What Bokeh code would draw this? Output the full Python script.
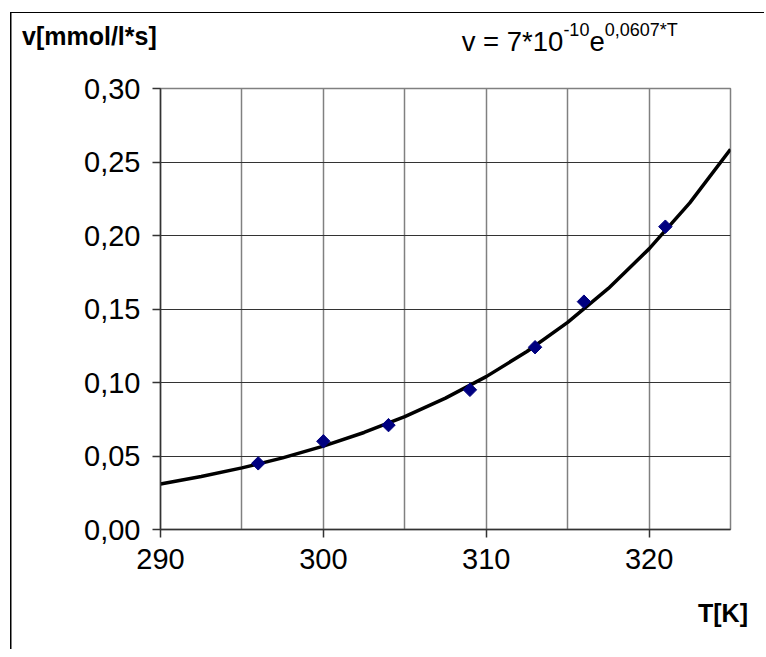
from bokeh.plotting import figure
from bokeh.models import FixedTicker, Range1d, Div
from bokeh.layouts import column
from bokeh.embed import file_html
from bokeh.resources import INLINE

# measured data points
T_points = [296, 300, 304, 309, 313, 316, 321]
v_points = [0.045, 0.060, 0.071, 0.095, 0.124, 0.155, 0.206]

# trend line
T_trend = [290, 292.5, 295, 297.5, 300, 302.5, 305, 307.5, 310, 312.5, 315, 317.5, 320, 322.5, 325]
v_trend = [0.0309, 0.0360, 0.0419, 0.0487, 0.0567, 0.0660, 0.0768, 0.0894, 0.1040, 0.1211,
           0.1409, 0.1640, 0.1909, 0.2222, 0.2586]

x_grid_ticks = [290, 295, 300, 305, 310, 315, 320, 325]
x_label_ticks = [290, 300, 310, 320]
y_ticks = [0.0, 0.05, 0.1, 0.15, 0.2, 0.25, 0.3]
y_tick_labels = ["0,00", "0,05", "0,10", "0,15", "0,20", "0,25", "0,30"]

y_title = "v[mmol/l*s]"
x_title = "T[K]"
eq_main, eq_exp1, eq_e, eq_exp2 = "v = 7*10", "-10", "e", "0,0607*T"

FONT = "Liberation Sans"
W = 764
TOP_H = 60
FIG_H = 525
BOT_H = 64
TOTAL_H = TOP_H + FIG_H + BOT_H

# ---- top block: y title + trend equation + outer border ----
top_html = f"""
<div style="position:relative;width:{W}px;height:{TOP_H}px;font-family:'{FONT}',Arial,sans-serif;color:black;">
  <div style="position:absolute;left:10px;top:12px;width:{W-10}px;height:{TOP_H-12}px;border-top:1.5px solid black;border-left:1.5px solid black;"></div>
  <div style="position:absolute;left:22px;top:23.8px;font-size:25px;font-weight:bold;line-height:25px;white-space:nowrap;">{y_title}</div>
  <div style="position:absolute;left:461.7px;top:28.4px;font-size:27.5px;line-height:27.5px;white-space:nowrap;">{eq_main}<span style="font-size:18px;position:relative;top:-15px;">{eq_exp1}</span>{eq_e}<span style="font-size:18px;position:relative;top:-15px;">{eq_exp2}</span></div>
</div>
"""
top = Div(text=top_html, width=W, height=TOP_H, margin=0)

# ---- chart ----
p = figure(width=W, height=FIG_H, output_backend="svg", toolbar_location=None,
           x_range=Range1d(290, 325), y_range=Range1d(0, 0.30),
           min_border_left=160, min_border_right=W - 730,
           min_border_top=28, min_border_bottom=FIG_H - 28 - 441, margin=0)
p.background_fill_color = "white"
p.border_fill_color = None
p.outline_line_color = "#808080"
p.outline_line_width = 1.5

# grids
p.xgrid.ticker = FixedTicker(ticks=x_grid_ticks)
p.xgrid.grid_line_color = "#808080"
p.xgrid.grid_line_width = 1.5
p.ygrid.ticker = FixedTicker(ticks=y_ticks)
p.ygrid.grid_line_color = "#333333"
p.ygrid.grid_line_width = 1

# axes
p.xaxis.ticker = FixedTicker(ticks=x_label_ticks)
p.yaxis.ticker = FixedTicker(ticks=y_ticks)
p.yaxis.major_label_overrides = {t: l for t, l in zip(y_ticks, y_tick_labels)}
for ax in (p.xaxis, p.yaxis):
    ax.axis_line_color = "#333333"
    ax.axis_line_width = 1.5
    ax.major_tick_line_color = "#333333"
    ax.major_tick_line_width = 1.5
    ax.major_tick_out = 8
    ax.major_tick_in = 0
    ax.minor_tick_line_color = None
    ax.major_label_text_font = FONT
    ax.major_label_text_font_size = "29px"
    ax.major_label_text_color = "black"
p.yaxis.major_label_standoff = 12
p.xaxis.major_label_standoff = 11

# trend line and points
p.line(T_trend, v_trend, line_color="black", line_width=3.5)
p.scatter(T_points, v_points, marker="square", angle=0.785398, size=9.5,
          fill_color="#000080", line_color="#000080")

# ---- bottom block: x title ----
bottom_html = f"""
<div style="position:relative;width:{W}px;height:{BOT_H}px;font-family:'{FONT}',Arial,sans-serif;color:black;">
  <div style="position:absolute;left:10px;top:0px;width:10px;height:{BOT_H}px;border-left:1.5px solid black;"></div>
  <div style="position:absolute;left:698px;top:15.5px;font-size:25px;font-weight:bold;line-height:25px;white-space:nowrap;">{x_title}</div>
</div>
"""
bottom = Div(text=bottom_html, width=W, height=BOT_H, margin=0)

layout = column(top, p, bottom, spacing=0, margin=0)
layout.styles = {
    "background-color": "white",
    "background-image": "linear-gradient(black, black)",
    "background-size": "1.5px 100%",
    "background-position": "10px 12px",
    "background-repeat": "no-repeat",
}
open("out.html", "w").write(file_html(layout, INLINE))
